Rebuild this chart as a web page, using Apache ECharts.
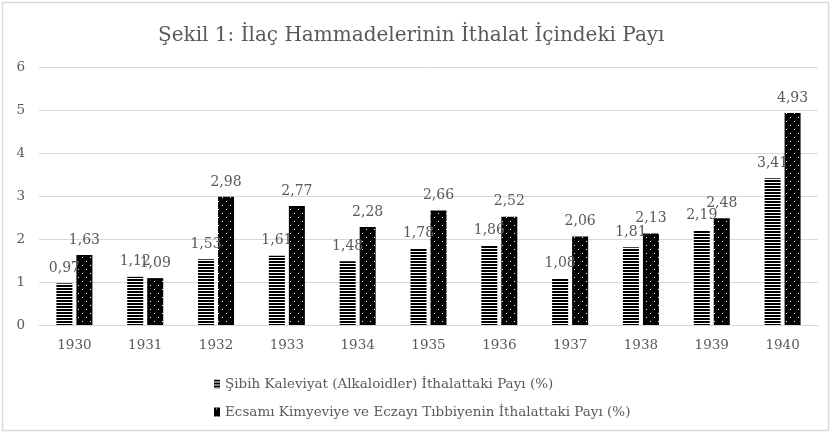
<!DOCTYPE html>
<html>
<head>
<meta charset="utf-8">
<script src="https://cdn.jsdelivr.net/npm/echarts@6/dist/echarts.min.js"></script>
<style>
  html, body { margin: 0; padding: 0; background: #fff; }
  #main { width: 831px; height: 434px; }
</style>
</head>
<body>
<div id="main"></div>
<script>
var years = ['1930', '1931', '1932', '1933', '1934', '1935', '1936', '1937', '1938', '1939', '1940'];
var alkaloid = [0.97, 1.12, 1.53, 1.61, 1.48, 1.78, 1.86, 1.08, 1.81, 2.19, 3.41];
var ecsami = [1.63, 1.09, 2.98, 2.77, 2.28, 2.66, 2.52, 2.06, 2.13, 2.48, 4.93];
var seriesNames = [
    'Şibih Kaleviyat (Alkaloidler) İthalattaki Payı (%)',
    'Ecsamı Kimyeviye ve Eczayı Tıbbiyenin İthalattaki Payı (%)'
];

// dolgu desenleri
function stripePattern() {
    var c = document.createElement('canvas');
    c.width = 4; c.height = 3;
    var ctx = c.getContext('2d');
    ctx.fillStyle = '#fff';
    ctx.fillRect(0, 0, 4, 3);
    ctx.fillStyle = '#000';
    ctx.fillRect(0, 0, 4, 2);
    return c;
}
function dotPattern() {
    var c = document.createElement('canvas');
    c.width = 8; c.height = 8;
    var ctx = c.getContext('2d');
    ctx.fillStyle = '#000';
    ctx.fillRect(0, 0, 8, 8);
    ctx.fillStyle = '#fff';
    ctx.fillRect(2, 1, 1, 1);
    ctx.fillRect(6, 5, 1, 1);
    return c;
}

var font = 'DejaVu Serif';
var chart = echarts.init(document.getElementById('main'));

function fmt(p) { return String(p.value.toFixed(2)).replace('.', ','); }

var option = {
    animation: false,
    textStyle: { fontFamily: font },
    title: {
        text: 'Şekil 1: İlaç Hammadelerinin İthalat İçindeki Payı',
        left: 153,
        top: 21,
        textStyle: { color: '#595959', fontSize: 20, fontWeight: 'normal', fontFamily: font }
    },
    grid: { left: 39, right: 13, top: 67, bottom: 109 },
    legend: {
        orient: 'vertical',
        left: 209,
        top: 372,
        itemGap: 14,
        itemWidth: 6,
        itemHeight: 9,
        icon: 'rect',
        textStyle: { color: '#595959', fontSize: 13.5, fontFamily: font },
        data: seriesNames
    },
    xAxis: {
        type: 'category',
        data: years,
        axisLine: { lineStyle: { color: '#d9d9d9' } },
        axisTick: { show: false },
        axisLabel: { color: '#595959', fontSize: 13.5, margin: 13, fontFamily: font }
    },
    yAxis: {
        type: 'value',
        min: 0, max: 6, interval: 1,
        axisLine: { show: false },
        axisTick: { show: false },
        splitLine: { lineStyle: { color: '#d9d9d9' } },
        axisLabel: { color: '#595959', fontSize: 13.5, margin: 14, fontFamily: font }
    },
    series: [
        {
            name: seriesNames[0],
            type: 'bar',
            data: alkaloid,
            barWidth: 16,
            barGap: '25%',
            itemStyle: { color: { image: stripePattern(), repeat: 'repeat' } },
            label: { show: true, position: 'top', distance: 8, color: '#595959', fontSize: 14, fontFamily: font, formatter: fmt }
        },
        {
            name: seriesNames[1],
            type: 'bar',
            data: ecsami,
            barWidth: 16,
            barGap: '25%',
            itemStyle: { color: { image: dotPattern(), repeat: 'repeat' } },
            label: { show: true, position: 'top', distance: 8, color: '#595959', fontSize: 14, fontFamily: font, formatter: fmt }
        }
    ],
    graphic: [{
        type: 'rect',
        shape: { x: 2.5, y: 2.5, width: 826, height: 428 },
        style: { fill: 'none', stroke: '#d9d9d9', lineWidth: 1.5 },
        silent: true
    }]
};

chart.setOption(option);
</script>
</body>
</html>
